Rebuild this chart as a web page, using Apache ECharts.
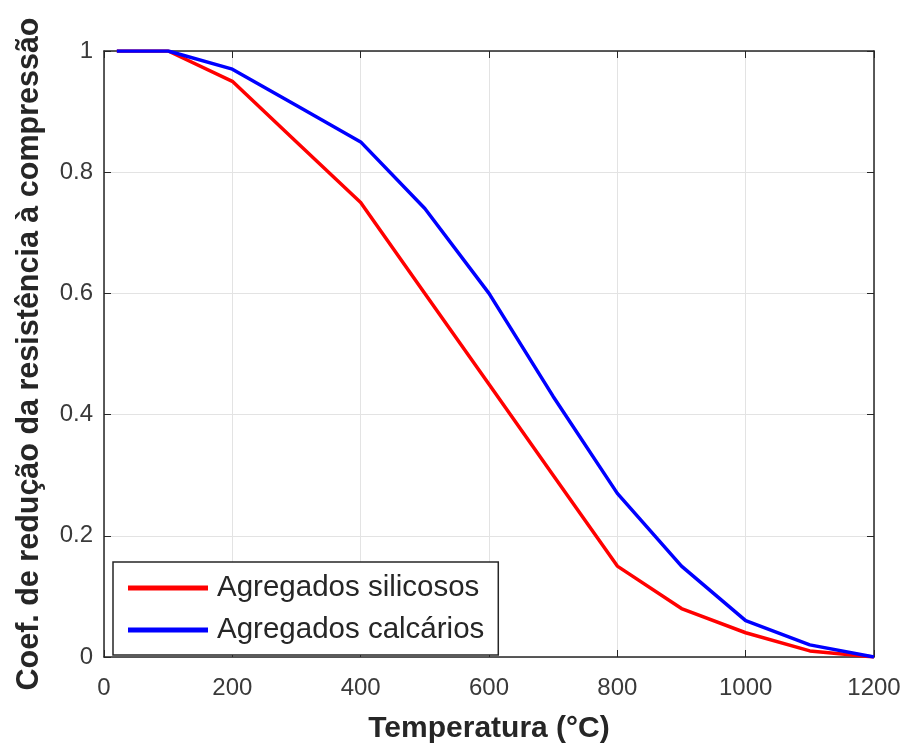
<!DOCTYPE html>
<html><head><meta charset="utf-8">
<script src="https://cdn.jsdelivr.net/npm/echarts@6/dist/echarts.min.js"></script>
<style>html,body{margin:0;padding:0;background:#fff}#c{width:906px;height:749px}</style>
</head><body><div id="c"></div>
<script>
const temps = [20, 100, 200, 300, 400, 500, 600, 700, 800, 900, 1000, 1100, 1200];
const silicosos = [1, 1, 0.95, 0.85, 0.75, 0.60, 0.45, 0.30, 0.15, 0.08, 0.04, 0.01, 0];
const calcarios = [1, 1, 0.97, 0.91, 0.85, 0.74, 0.60, 0.43, 0.27, 0.15, 0.06, 0.02, 0];
const seriesNames = ['Agregados silicosos', 'Agregados calcários'];
const xTitle = 'Temperatura (°C)';
const yTitle = 'Coef. de redução da resistência à compressão';

const chart = echarts.init(document.getElementById('c'));
const font = 'Helvetica, Arial, "Liberation Sans", sans-serif';
const axisCol = '#262626';
const labelCol = '#3a3a3a';
const gridCol = '#e3e3e3';
function pairs(ys){ return temps.map((t,i)=>[t, ys[i]]); }
chart.setOption({
  animation: false,
  grid: {left: 104, right: 32, top: 51, bottom: 88, containLabel: false},
  xAxis: [{
    type: 'value', min: 0, max: 1200, interval: 200,
    name: xTitle, nameLocation: 'middle', nameGap: 57,
    nameTextStyle: {fontFamily: font, fontSize: 30, fontWeight: 'bold', color: axisCol},
    axisLine: {show: true, lineStyle: {color: axisCol, width: 1.5}},
    axisTick: {show: true, inside: true, length: 7, lineStyle: {color: axisCol}},
    axisLabel: {fontFamily: font, fontSize: 24, color: labelCol, margin: 19, formatter: v => String(v)},
    splitLine: {show: true, lineStyle: {color: gridCol, width: 1}}
  }, {
    type: 'value', min: 0, max: 1200, interval: 200, position: 'top',
    axisLine: {show: true, onZero: false, lineStyle: {color: axisCol, width: 1.5}},
    axisTick: {show: true, inside: true, length: 7, lineStyle: {color: axisCol}},
    axisLabel: {show: false}, splitLine: {show: false}
  }],
  yAxis: [{
    type: 'value', min: 0, max: 1, interval: 0.2,
    name: yTitle, nameLocation: 'middle', nameGap: 59,
    nameTextStyle: {fontFamily: font, fontSize: 30.5, fontWeight: 'bold', color: axisCol},
    axisLine: {show: true, lineStyle: {color: axisCol, width: 1.5}},
    axisTick: {show: true, inside: true, length: 7, lineStyle: {color: axisCol}},
    axisLabel: {fontFamily: font, fontSize: 24, color: labelCol, margin: 11, formatter: v => String(v)},
    splitLine: {show: true, lineStyle: {color: gridCol, width: 1}}
  }, {
    type: 'value', min: 0, max: 1, interval: 0.2, position: 'right',
    axisLine: {show: true, onZero: false, lineStyle: {color: axisCol, width: 1.5}},
    axisTick: {show: true, inside: true, length: 7, lineStyle: {color: axisCol}},
    axisLabel: {show: false}, splitLine: {show: false}
  }],
  legend: {
    orient: 'vertical', left: 113, top: 562,
    backgroundColor: '#fff', borderColor: axisCol, borderWidth: 1.5,
    padding: [11, 14, 10, 15], itemGap: 12, itemWidth: 80, itemHeight: 5,
    textStyle: {fontFamily: font, fontSize: 29.5, color: axisCol, padding: [0, 0, 0, 4]},
    icon: 'rect',
    data: seriesNames
  },
  series: [{
    name: seriesNames[0], type: 'line', data: pairs(silicosos),
    symbol: 'none', lineStyle: {color: '#ff0000', width: 3.5}, itemStyle: {color: '#ff0000'}, z: 3
  }, {
    name: seriesNames[1], type: 'line', data: pairs(calcarios),
    symbol: 'none', lineStyle: {color: '#0000ff', width: 3.5}, itemStyle: {color: '#0000ff'}, z: 4
  }]
});
</script></body></html>
